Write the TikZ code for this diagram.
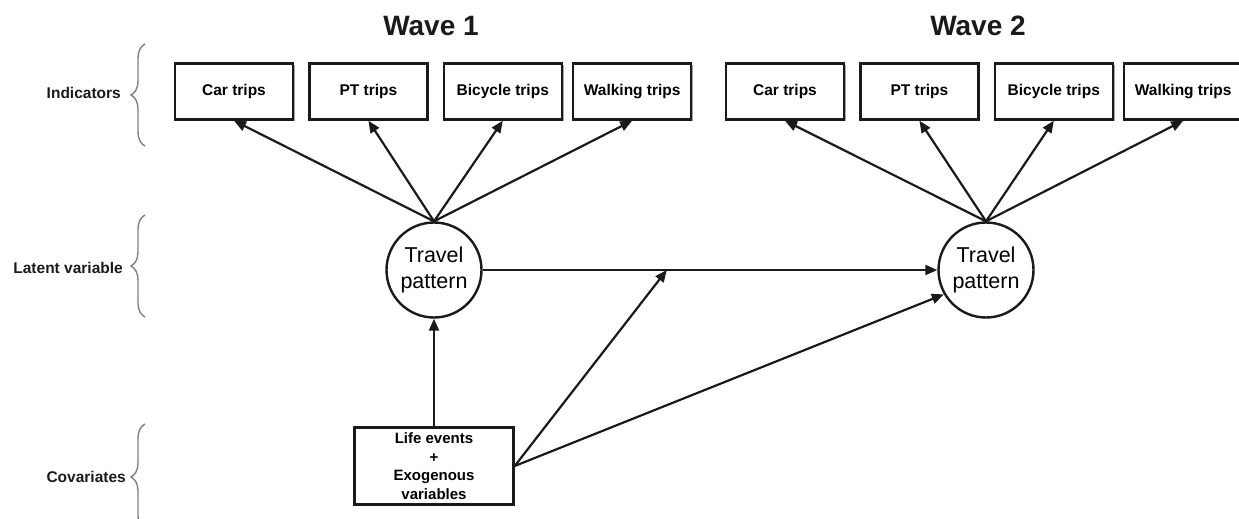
\documentclass[tikz,border=0pt]{standalone}
\usepackage{fontspec}
\setmainfont{Liberation Sans}
\usepackage{tikz}
\usetikzlibrary{positioning,arrows.meta,shadows,decorations.pathreplacing}
\definecolor{ink}{HTML}{1A1A1A}
\definecolor{brc}{HTML}{808080}
\tikzset{
  ind/.style ={rectangle, draw=ink, line width=2.4pt, fill=white, minimum width=118pt, minimum height=56pt, inner sep=2pt, font=\fontsize{15.5}{18}\selectfont\bfseries, drop shadow={shadow xshift=1.8pt, shadow yshift=-1.8pt, opacity=0.35, fill=black}},
  covbox/.style={rectangle, draw=ink, line width=2.4pt, fill=white, minimum width=159pt, minimum height=77pt, inner sep=2pt, align=center, font=\fontsize{15}{18.7}\selectfont\bfseries, drop shadow={shadow xshift=1.8pt, shadow yshift=-1.8pt, opacity=0.35, fill=black}},
  lat/.style ={circle, draw=ink, line width=2.4pt, fill=white, minimum size=95pt, inner sep=0pt, align=center, font=\fontsize{21.5}{26}\selectfont},
  wave/.style={text=ink, font=\fontsize{28}{32}\selectfont\bfseries},
  side/.style={text=ink, inner sep=0pt, font=\fontsize{15.5}{18}\selectfont\bfseries},
  grp/.style ={draw=brc, line width=1.4pt, decorate, decoration={brace, amplitude=14pt}},
  eff/.style ={draw=ink, line width=2.2pt, -{Triangle[length=12pt,width=10pt]}},
}
\begin{document}
\begin{tikzpicture}[x=1pt, y=-1pt, node distance=14pt]
\useasboundingbox (0,0) rectangle (1239,519);
% waves
\node[wave] (w1) at (431,26) {Wave 1};
\node[wave] (w2) at (978,26) {Wave 2};
% latent variable
\node[lat] (tp1) at (434,270) {Travel\\pattern};
\node[lat] (tp2) at (986,270) {Travel\\pattern};
% indicators
\node[ind] (car1) at (234,91.5) {Car trips};
\node[ind] (pt1) [right=of car1] {PT trips};
\node[ind] (bic1) [right=of pt1] {Bicycle trips};
\node[ind] (walk1) [right=9pt of bic1] {Walking trips};
\node[ind] (car2) at (785,91.5) {Car trips};
\node[ind] (pt2) [right=of car2] {PT trips};
\node[ind] (bic2) [right=of pt2] {Bicycle trips};
\node[ind] (walk2) [right=9pt of bic2] {Walking trips};
% covariates
\node[covbox] (cov) at (434,466) {Life events\\+\\Exogenous\\variables};
% measurement
\foreach \b in {car1,pt1,bic1,walk1} \draw[eff] (tp1.north) -- (\b.south);
\foreach \b in {car2,pt2,bic2,walk2} \draw[eff] (tp2.north) -- (\b.south);
% structural part
\draw[eff] (tp1) -- coordinate[pos=0.405] (mod) (tp2);
\draw[eff] (cov.north) -- (tp1.south);
\draw[eff] (cov.east) -- (mod);
\draw[eff] (cov.east) -- (tp2.210);
% row labels
\draw[grp] (145,146) -- (145,44);
\draw[grp] (145,317) -- (145,215);
\draw[grp] (145,530) -- (145,424);
\coordinate (ti) at (131,93);
\coordinate (tl) at (131,268);
\coordinate (tc) at (131,477);
\node[side] (lind) [left=10pt of ti] {Indicators};
\node[side] (llat) [left=8pt of tl] {Latent variable};
\node[side] (lcov) [left=5pt of tc] {Covariates};
\end{tikzpicture}
\end{document}
